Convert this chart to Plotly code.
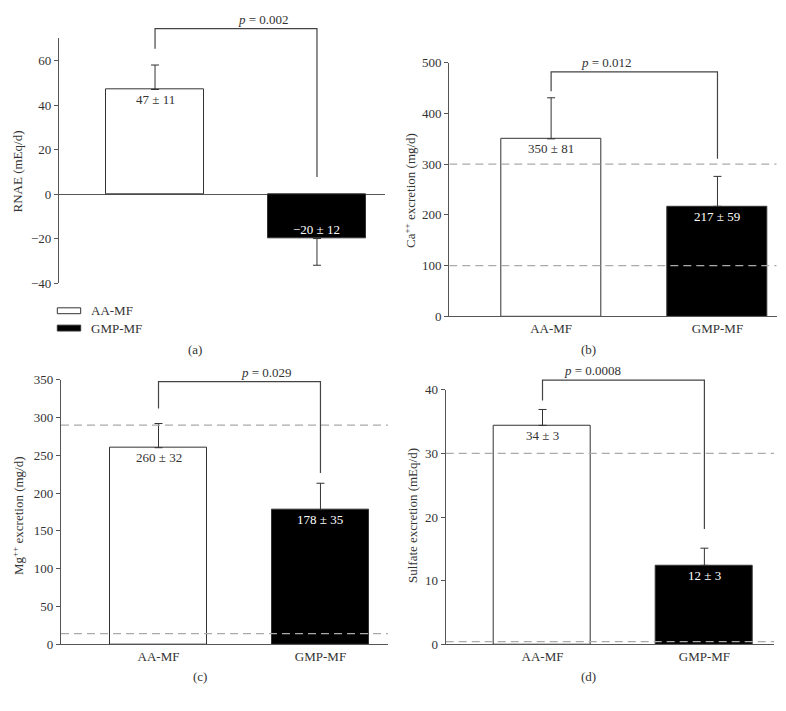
import plotly.graph_objects as go

# ---------------- data ----------------
categories = ["AA-MF", "GMP-MF"]

rnae_mean = [47, -20]
rnae_sd = [11, 12]
rnae_labels = ["47 ± 11", "\u221220 ± 12"]

ca_mean = [350, 217]
ca_sd = [81, 59]
ca_labels = ["350 ± 81", "217 ± 59"]
ca_ref = [100, 300]

mg_mean = [260, 178]
mg_sd = [32, 35]
mg_labels = ["260 ± 32", "178 ± 35"]
mg_ref = [14, 290]

sulfate_mean = [34.4, 12.4]
sulfate_sd = [2.5, 2.7]
sulfate_labels = ["34 ± 3", "12 ± 3"]
sulfate_ref = [0.4, 30]

p_values = ["0.002", "0.012", "0.029", "0.0008"]
# bracket: [top, left leg end, right leg end] in data units
brackets = [[74.4, 65.3, 7.7], [482, 444, 311], [347.5, 312, 226.6], [41.5, 38.3, 18.1]]

y_titles = ["RNAE (mEq/d)", "Ca<sup>++</sup> excretion (mg/d)",
            "Mg<sup>++</sup> excretion (mg/d)", "Sulfate excretion (mEq/d)"]
panel_tags = ["(a)", "(b)", "(c)", "(d)"]

# ---------------- layout geometry ----------------
W, H = 786, 711
FONT = "Liberation Serif"
AXC = "#555555"
TXT = "#333333"

panels = [
    dict(xd=[59, 385], yd=[32, 282], yr=[-40, 70], xr=[-0.593, 1.42], tv=[-40, -20, 0, 20, 40, 60],
         mean=rnae_mean, sd=rnae_sd, lab=rnae_labels, ref=[], showx=False,
         ytitle_xy=(17, 168), tag_xy=(195, 350)),
    dict(xd=[449.3, 776.7], yd=[57, 316], yr=[0, 500], xr=[-0.612, 1.356], tv=[0, 100, 200, 300, 400, 500],
         mean=ca_mean, sd=ca_sd, lab=ca_labels, ref=ca_ref, showx=True,
         ytitle_xy=(410, 188), tag_xy=(588, 350)),
    dict(xd=[61, 388], yd=[380.7, 651], yr=[0, 350], xr=[-0.602, 1.417],
         tv=[0, 50, 100, 150, 200, 250, 300, 350],
         mean=mg_mean, sd=mg_sd, lab=mg_labels, ref=mg_ref, showx=True,
         ytitle_xy=(18, 520), tag_xy=(200, 684)),
    dict(xd=[445.7, 774], yd=[391, 651], yr=[0, 40], xr=[-0.598, 1.43], tv=[0, 10, 20, 30, 40],
         mean=sulfate_mean, sd=sulfate_sd, lab=sulfate_labels, ref=sulfate_ref, showx=True,
         ytitle_xy=(412, 520), tag_xy=(588, 684)),
]


def xpaper(p, v):
    d0, d1 = p["xd"][0] / W, p["xd"][1] / W
    r0, r1 = p["xr"]
    return d0 + (v - r0) / (r1 - r0) * (d1 - d0)


def ypaper(p, v):
    d0, d1 = 1 - p["yd"][1] / H, 1 - p["yd"][0] / H
    r0, r1 = p["yr"]
    return d0 + (v - r0) / (r1 - r0) * (d1 - d0)


fig = go.Figure()
shapes = []
annotations = []
layout_axes = {}

for i, p in enumerate(panels):
    n = "" if i == 0 else str(i + 1)
    xa, ya = "x" + n, "y" + n
    fills = ["white", "black"]
    for j in range(2):
        m = p["mean"][j]
        s = p["sd"][j]
        up = [s] if m >= 0 else [0]
        down = [0] if m >= 0 else [s]
        fig.add_trace(go.Bar(
            x=[j], y=[m], width=0.6, xaxis=xa, yaxis=ya, showlegend=False,
            marker=dict(color=fills[j], line=dict(color="#333333", width=1)),
            error_y=dict(type="data", symmetric=False, array=up, arrayminus=down,
                         color="#333333", thickness=1, width=4),
            hoverinfo="skip",
        ))
        # value label inside bar
        if m >= 0:
            annotations.append(dict(x=j, y=m, xref=xa, yref=ya, text=p["lab"][j], showarrow=False,
                                    yanchor="middle", yshift=-10,
                                    font=dict(family=FONT, size=13, color=TXT if j == 0 else "white")))
        else:
            annotations.append(dict(x=j, y=m, xref=xa, yref=ya, text=p["lab"][j], showarrow=False,
                                    yanchor="middle", yshift=9,
                                    font=dict(family=FONT, size=13, color="white")))

    # reference dashed lines
    for r in p["ref"]:
        shapes.append(dict(type="line", xref=xa, yref=ya, x0=p["xr"][0], x1=p["xr"][1], y0=r, y1=r,
                           line=dict(color="#aaaaaa", width=1.3, dash="8px,5px"), layer="above"))

    # significance bracket
    top, l_end, r_end = brackets[i]
    xl, xrr = xpaper(p, 0), xpaper(p, 1)
    yt = ypaper(p, top)
    shapes.append(dict(type="path", xref="paper", yref="paper",
                       path=f"M{xl},{ypaper(p, l_end)} L{xl},{yt} L{xrr},{yt} L{xrr},{ypaper(p, r_end)}",
                       line=dict(color="#444444", width=1.2)))
    annotations.append(dict(x=(xl + xrr) / 2, y=yt, xref="paper", yref="paper",
                            text=f"<i>p</i> = {p_values[i]}", showarrow=False, yanchor="bottom", yshift=0,
                            font=dict(family=FONT, size=13, color=TXT)))

    # y title
    tx, ty = p["ytitle_xy"]
    annotations.append(dict(x=tx / W, y=1 - ty / H, xref="paper", yref="paper", text=y_titles[i],
                            textangle=-90, showarrow=False, xanchor="center", yanchor="middle",
                            font=dict(family=FONT, size=13, color=TXT)))
    # panel tag
    annotations.append(dict(x=p["tag_xy"][0] / W, y=1 - p["tag_xy"][1] / H, xref="paper", yref="paper",
                            text=panel_tags[i], showarrow=False, xanchor="center", yanchor="middle",
                            font=dict(family=FONT, size=13, color=TXT)))

    xdom = [p["xd"][0] / W, p["xd"][1] / W]
    ydom = [1 - p["yd"][1] / H, 1 - p["yd"][0] / H]
    layout_axes["xaxis" + n] = dict(
        domain=xdom, range=p["xr"], anchor=ya, showgrid=False, zeroline=False,
        showline=p["showx"], linecolor=AXC, linewidth=1.2, ticks="",
        tickvals=[0, 1] if p["showx"] else [], ticktext=categories if p["showx"] else [],
        showticklabels=p["showx"], tickfont=dict(family=FONT, size=13, color=TXT), fixedrange=True)
    layout_axes["yaxis" + n] = dict(
        domain=ydom, range=p["yr"], anchor=xa, showgrid=False,
        zeroline=(i == 0), zerolinecolor=AXC, zerolinewidth=1.2,
        showline=True, linecolor=AXC, linewidth=1.2, ticks="outside", ticklen=4, tickcolor=AXC,
        tickvals=p["tv"], tickfont=dict(family=FONT, size=13, color=TXT), fixedrange=True)

# legend (panel a)
legend_items = [("AA-MF", "white", 307.3, 313.3, 310.5), ("GMP-MF", "black", 325, 331, 328)]
for name, col, yt_, yb_, yc in legend_items:
    shapes.append(dict(type="rect", xref="paper", yref="paper", x0=57.3 / W, x1=80.7 / W,
                       y0=1 - yb_ / H, y1=1 - yt_ / H, fillcolor=col,
                       line=dict(color="#333333", width=1)))
    annotations.append(dict(x=89 / W, y=1 - yc / H, xref="paper", yref="paper", text=name,
                            showarrow=False, xanchor="left", yanchor="middle",
                            font=dict(family=FONT, size=13, color=TXT)))

fig.update_layout(
    width=W, height=H, margin=dict(l=0, r=0, t=0, b=0),
    paper_bgcolor="white", plot_bgcolor="white",
    font=dict(family=FONT, size=13, color=TXT),
    bargap=0, barmode="overlay",
    shapes=shapes, annotations=annotations,
    **layout_axes,
)

fig.write_html("out.html", config={"displayModeBar": False},
               post_script="document.body.style.margin='0';document.body.style.overflow='hidden';")
